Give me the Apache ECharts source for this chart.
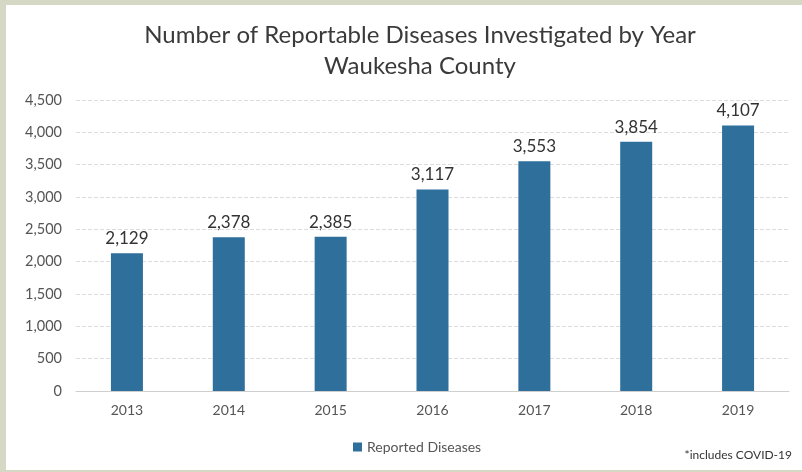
<!DOCTYPE html>
<html><head><meta charset="utf-8">
<script src="https://cdn.jsdelivr.net/npm/echarts@6/dist/echarts.min.js"></script>
<style>
html,body{margin:0;padding:0;background:#d6d8c6;}
#c{position:absolute;left:6px;top:5px;width:796px;height:465px;background:#ffffff;}
</style></head>
<body><div id="c"></div>
<script>
const years = ['2013','2014','2015','2016','2017','2018','2019'];
const reportedDiseases = [2129, 2378, 2385, 3117, 3553, 3854, 4107];
const seriesName = 'Reported Diseases';
const titleLines = ['Number of Reportable Diseases Investigated by Year', 'Waukesha County'];
const footnote = '*includes COVID-19';

const chart = echarts.init(document.getElementById('c'), null, {renderer:'canvas'});
const font = 'Lato, "Open Sans", sans-serif';
chart.setOption({
  animation:false,
  backgroundColor:'#ffffff',
  title:{
    text: titleLines.join('\n'),
    left: 409, textAlign:'center', top: 10,
    textStyle:{fontFamily:font, fontSize:24, fontWeight:'normal', color:'#3a3a3a', lineHeight:31}
  },
  legend:{
    data:[seriesName], left: 342, top: 430,
    itemWidth:9, itemHeight:9, icon:'rect', itemGap:6,
    textStyle:{fontFamily:font, fontSize:14, color:'#555'}
  },
  graphic:[{type:'text', right: 10, top: 444, style:{text: footnote, fontFamily:font, fontSize:12, fill:'#333'}}],
  grid:{left:70, right:13, top:95, bottom:79},
  xAxis:{
    type:'category', data: years,
    axisLine:{lineStyle:{color:'#cfcfcf'}}, axisTick:{show:false},
    axisLabel:{fontFamily:font, fontSize:14, color:'#555', margin:12}
  },
  yAxis:{
    type:'value', min:0, max:4500, interval:500,
    axisLabel:{fontFamily:font, fontSize:14.5, color:'#555', margin:14,
      formatter: v => v.toLocaleString('en-US')},
    splitLine:{lineStyle:{color:'#dcdcdc', type:[4,2]}},
    axisLine:{show:false}, axisTick:{show:false}
  },
  series:[{
    name: seriesName, type:'bar', data: reportedDiseases, barWidth:32,
    itemStyle:{color:'#2e6f9c'},
    label:{show:true, position:'top', distance:6, fontFamily:font, fontSize:17, color:'#333',
      formatter: p => p.value.toLocaleString('en-US')}
  }]
});
</script></body></html>
